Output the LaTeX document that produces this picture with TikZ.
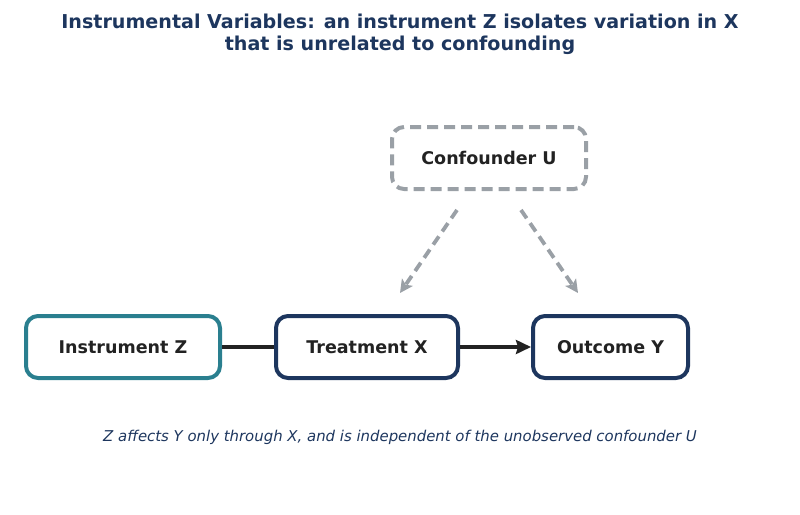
\documentclass[tikz,border=0pt]{standalone}
\usepackage{fontspec}
\setmainfont{DejaVu Sans}
\usetikzlibrary{arrows.meta}
\definecolor{navy}{HTML}{1D365E}
\definecolor{teal}{HTML}{2A7F8F}
\definecolor{greyc}{HTML}{9AA0A6}
\definecolor{ink}{HTML}{222222}
\begin{document}
\begin{tikzpicture}[x=1pt,y=-1pt,
  box/.style={draw, line width=4pt, rounded corners=12pt, fill=white, inner sep=0pt,
    font=\fontsize{17.5}{20}\selectfont\bfseries, text=ink, minimum height=62pt},
  solidlink/.style={draw=ink, line width=3.2pt},
  dasharrow/.style={draw=greyc, line width=3.8pt, dash pattern=on 10pt off 6pt,
    -{Stealth[length=13pt,width=13pt,inset=3pt]}},
]
\useasboundingbox (0,0) rectangle (800,514);
\node[font=\fontsize{19.1}{22}\selectfont\bfseries, text=navy, align=center] (title) at (400,34)
  {Instrumental Variables: an instrument Z isolates variation in X\\that is unrelated to confounding};
\node[box, draw=greyc, dash pattern=on 11pt off 6pt, minimum width=194pt] (u) at (489,158) {Confounder U};
\node[box, draw=teal, minimum width=194pt] (z) at (123,347) {Instrument Z};
\node[box, draw=navy, minimum width=182pt] (x) at (367,347) {Treatment X};
\node[box, draw=navy, minimum width=155pt] (y) at (610.5,347) {Outcome Y};
\draw[solidlink] (z.east) -- (x.west);
\draw[solidlink, -{Stealth[length=15pt,width=14pt,inset=2pt]}] (x.east) -- (y.west);
\draw[dasharrow] ([xshift=-32pt,yshift=-19pt]u.south) -- ([xshift=33pt,yshift=21pt]x.north);
\draw[dasharrow] ([xshift=32pt,yshift=-19pt]u.south) -- ([xshift=-32.5pt,yshift=21pt]y.north);
\node[font=\fontsize{14.9}{18}\selectfont\itshape, text=navy] (cap) at (400,437)
  {Z affects Y only through X, and is independent of the unobserved confounder U};
\end{tikzpicture}
\end{document}
